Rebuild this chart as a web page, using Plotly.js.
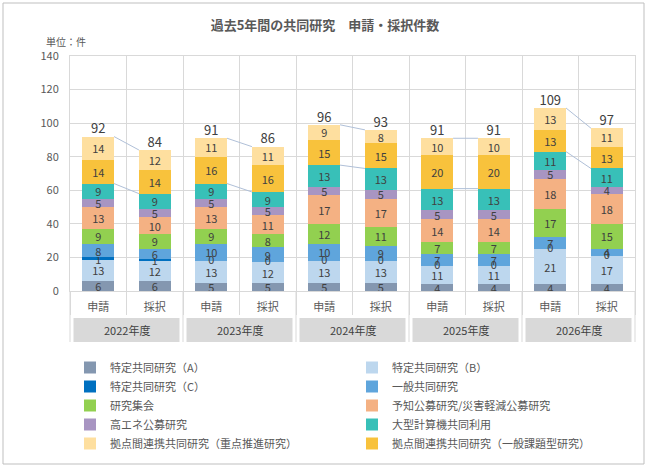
<!DOCTYPE html>
<html><head><meta charset="utf-8">
<script src="https://cdn.plot.ly/plotly-3.0.1.min.js"></script>
<style>html,body{margin:0;padding:0;background:#fff}#chart{width:650px;height:469px}</style>
</head><body><div id="chart"></div>
<script>
// ---- data ----
const years = ['2022年度','2023年度','2024年度','2025年度','2026年度'];
const kinds = ['申請','採択'];
const seriesNames = [
  '特定共同研究（A）','特定共同研究（B）','特定共同研究（C）','一般共同研究','研究集会',
  '予知公募研究/災害軽減公募研究','高エネ公募研究','大型計算機共同利用',
  '拠点間連携共同研究（一般課題型研究）','拠点間連携共同研究（重点推進研究）'
];
const tokuteiA   = [6,6,5,5,5,5,4,4,4,4];
const tokuteiB   = [13,12,13,12,13,13,11,11,21,17];
const tokuteiC   = [1,1,0,0,0,0,0,0,0,0];
const ippan      = [8,6,10,9,10,9,7,7,7,4];
const kenkyuShukai = [9,9,9,8,12,11,7,7,17,15];
const yochi      = [13,10,13,11,17,17,14,14,18,18];
const kouEne     = [5,5,5,5,5,5,5,5,5,4];
const ogata      = [9,9,9,9,13,13,13,13,11,11];
const kyotenIppan = [14,14,16,16,15,15,20,20,13,13];
const kyotenJuten = [14,12,11,11,9,8,10,10,13,11];
const totals     = [92,84,91,86,96,93,91,91,109,97];

const seriesValues = [tokuteiA,tokuteiB,tokuteiC,ippan,kenkyuShukai,yochi,kouEne,ogata,kyotenIppan,kyotenJuten];
const colors = ['#8497b0','#bdd7ee','#0070c0','#5fa5dc','#92d050','#f4b183','#a895c2','#38c0b8','#f8c23c','#fedf9f'];
const legendRanks = [1,2,3,4,5,6,7,8,10,9];

const catLabels = [];
years.forEach(()=>kinds.forEach(k=>catLabels.push(k)));
const xIdx = catLabels.map((_,i)=>i);
const barW = 0.56;
const textFont = {family:'Noto Sans CJK JP', size:11, color:'#404040'};

const traces = seriesValues.map((vals,s)=>({
  type:'bar', name:seriesNames[s], x:xIdx, y:vals, width:barW,
  marker:{color:colors[s], line:{width:0}},
  text:vals.map(String), textposition:'inside', insidetextanchor:'middle',
  constraintext:'none', textangle:0, insidetextfont:textFont,
  hoverinfo:'name+y', legendrank:legendRanks[s]
}));

// cumulative stacks
const cum = [];
let run = xIdx.map(()=>0);
seriesValues.forEach(vals=>{ cum.push(run.slice()); run = run.map((r,i)=>r+vals[i]); });
const stackTop = run;

// zero labels (library hides text on empty bars)
const zx=[], zy=[], zt=[];
seriesValues.forEach((vals,s)=>vals.forEach((v,i)=>{ if(v===0){zx.push(i); zy.push(cum[s][i]); zt.push('0');} }));
traces.push({type:'scatter', mode:'text', x:zx, y:zy, text:zt, textposition:'middle center',
  textfont:textFont, showlegend:false, hoverinfo:'skip'});

// totals
traces.push({type:'scatter', mode:'text', x:xIdx, y:stackTop, text:totals.map(String),
  textposition:'top center', textfont:{family:'Noto Sans CJK JP', size:13, color:'#404040'},
  showlegend:false, hoverinfo:'skip'});

// series lines between 申請 and 採択
const ogataIdx = 7;
const lx=[], ly=[];
years.forEach((y,g)=>{
  const a=2*g, b=2*g+1;
  lx.push(a+barW/2, b-barW/2, null); ly.push(stackTop[a], stackTop[b], null);
  const ta = cum[ogataIdx][a]+ogata[a], tb = cum[ogataIdx][b]+ogata[b];
  lx.push(a+barW/2, b-barW/2, null); ly.push(ta, tb, null);
});
traces.push({type:'scatter', mode:'lines', x:lx, y:ly, line:{color:'#b0c0d8', width:1},
  showlegend:false, hoverinfo:'skip'});

// ---- layout ----
const W=650, H=469, L=70, R=15, T=56, B=178;
const pw=W-L-R, ph=H-T-B;
const px = v => (v-L)/pw;           // pixel -> paper x
const py = v => (H-B-v)/ph;         // pixel -> paper y
const n = xIdx.length;
const boundaries = [];
for(let i=0;i<=n;i++) boundaries.push(i-0.5);

const shapes = [];
const annotations = [];
years.forEach((y,g)=>{
  const m = 0.062;
  shapes.push({type:'rect', xref:'paper', yref:'paper', x0:(2*g+m)/n, x1:(2*g+2-m)/n,
    y0:py(342), y1:py(318), fillcolor:'#d9d9d9', line:{width:0}, layer:'below'});
  annotations.push({xref:'paper', yref:'paper', x:(2*g+1)/n, y:py(330), text:y, showarrow:false,
    xanchor:'center', yanchor:'middle', font:{family:'Noto Sans CJK JP', size:11, color:'#404040'}});
});
for(let g=0; g<=years.length; g++){
  shapes.push({type:'line', xref:'paper', yref:'paper', x0:2*g/n, x1:2*g/n, y0:0, y1:py(342),
    line:{color:'#d9d9d9', width:1}});
}
shapes.push({type:'rect', xref:'paper', yref:'paper', x0:px(3), x1:px(644), y0:py(464), y1:py(3),
  line:{color:'#bfbfbf', width:1}, fillcolor:'rgba(0,0,0,0)'});
annotations.push({xref:'paper', yref:'paper', x:px(44), y:py(42), text:'単位：件', showarrow:false,
  xanchor:'left', yanchor:'middle', font:{family:'Noto Sans CJK JP', size:10, color:'#595959'}});

const layout = {
  width:W, height:H, margin:{l:L, r:R, t:T, b:B},
  paper_bgcolor:'#fff', plot_bgcolor:'#fff',
  font:{family:'Noto Sans CJK JP', color:'#595959', size:11},
  barmode:'stack',
  title:{text:'<b>過去5年間の共同研究　申請・採択件数</b>', xref:'container', x:0.5, xanchor:'center',
    yref:'container', y:1-25/H, yanchor:'middle', font:{family:'Noto Sans CJK JP', size:13, color:'#595959'}},
  xaxis:{type:'linear', range:[-0.5, n-0.5], tickvals:xIdx, ticktext:catLabels,
    showgrid:false, zeroline:false, ticks:'outside', ticklen:6, tickcolor:'rgba(0,0,0,0)',
    tickfont:{family:'Noto Sans CJK JP', size:11, color:'#595959'},
    showline:true, linecolor:'#d9d9d9', mirror:true, automargin:false,
    minor:{tickvals:boundaries, showgrid:true, gridcolor:'#d9d9d9', ticks:'outside', ticklen:23, tickcolor:'#d9d9d9'}},
  yaxis:{range:[0,140], dtick:20, showgrid:true, gridcolor:'#d9d9d9', zeroline:false, automargin:false,
    showline:true, linecolor:'#d9d9d9', mirror:true, ticks:'', ticklabelstandoff:8,
    tickfont:{family:'Noto Sans CJK JP', size:11, color:'#595959'}},
  showlegend:true,
  legend:{orientation:'h', x:px(70), xref:'paper', xanchor:'left', yref:'container', y:1-353/H, yanchor:'top',
    traceorder:'normal', entrywidth:237, entrywidthmode:'pixels',
    font:{family:'Noto Sans CJK JP', size:11, color:'#595959'}, bgcolor:'rgba(0,0,0,0)'},
  shapes:shapes, annotations:annotations
};
Plotly.newPlot('chart', traces, layout, {displayModeBar:false, responsive:false});
</script></body></html>
